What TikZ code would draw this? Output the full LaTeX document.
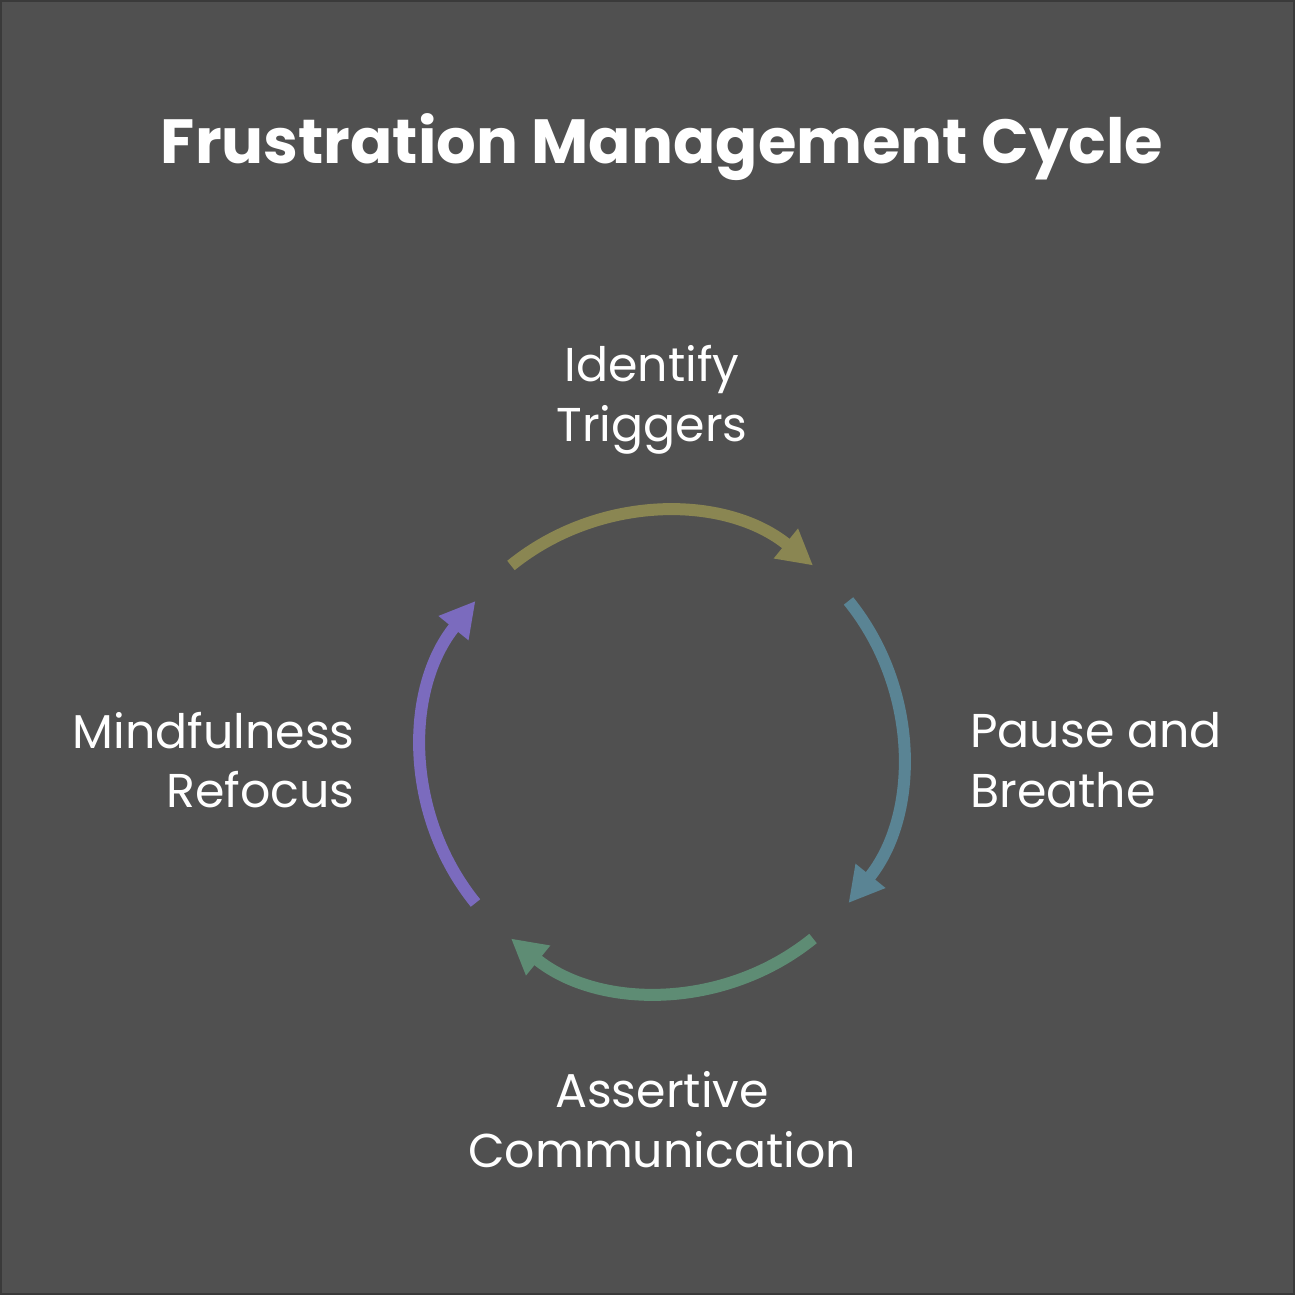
\documentclass[tikz,border=0pt]{standalone}
\usepackage{fontspec}
\setmainfont{Poppins}
\usetikzlibrary{
    arrows.meta,
    positioning,
    calc
}

\begin{document}
\begin{tikzpicture}[x=0.02cm, y=0.02cm,
    stagelabel/.style={font=\fontsize{27}{34}\selectfont, text=white, inner sep=0pt},
    cyclearc/.style={line width=0.24cm, -{Triangle[length=0.7cm, width=0.72cm]}}
]
% Define palette
\definecolor{bgdark}{RGB}{80, 80, 80}
\definecolor{bgedge}{RGB}{58, 58, 58}
\definecolor{arcolive}{RGB}{138, 134, 82}
\definecolor{arcteal}{RGB}{90, 132, 148}
\definecolor{arcgreen}{RGB}{94, 140, 116}
\definecolor{arcviolet}{RGB}{123, 107, 190}

% Background
\fill[bgdark] (0,0) rectangle (1295,1295);
\draw[bgedge, line width=0.04cm] (1,1) rectangle (1294,1294);
\useasboundingbox (0,0) rectangle (1295,1295);

% Title
\node[font=\fontsize{35.5}{42}\selectfont\bfseries, text=white] (title) at (662,1148) {Frustration Management Cycle};

% Centre of the cycle
\coordinate (hub) at (662,543);

% Arcs
\foreach \c/\a/\n in {
    arcolive/129/top,
    arcteal/39/right,
    arcgreen/-51/bottom,
    arcviolet/-141/left
} {
    \draw[cyclearc, \c] ($(hub)+(\a:240)$) coordinate (\n start)
        arc[start angle=\a, end angle=\a-78, radius=240];
}

% Stage labels
\node[stagelabel, align=center] (trigger) at (652,895) {Identify\\Triggers};
\node[stagelabel, align=left, anchor=west] (pause) at (970,535) {Pause and\\Breathe};
\node[stagelabel, align=center] (assert) at (662,175) {Assertive\\Communication};
\node[stagelabel, align=right, anchor=east] (mindful) at (355,535) {Mindfulness\\Refocus};
\end{tikzpicture}
\end{document}
